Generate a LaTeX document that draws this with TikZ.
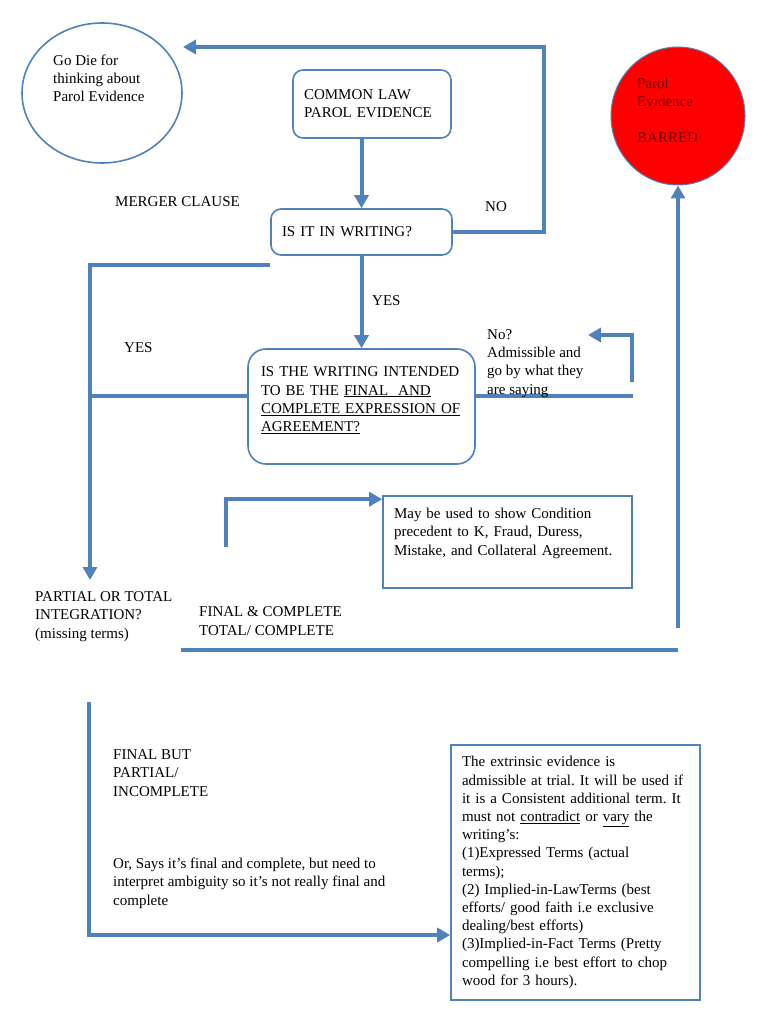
\documentclass[tikz,border=0pt]{standalone}
\usepackage{fontspec}
\setmainfont{Liberation Serif}
\usetikzlibrary{arrows.meta,shapes.geometric}
\definecolor{flowblue}{RGB}{79,129,189}
\definecolor{barredfill}{RGB}{255,0,0}
\definecolor{barredink}{RGB}{110,0,0}
\tikzset{
    >={Triangle[width=14pt,length=13pt]},
    flow/.style={draw=flowblue,line width=4pt},
    stepbox/.style={draw=flowblue,line width=1.6pt,rounded corners=10pt,align=left,inner xsep=11pt},
    notebox/.style={draw=flowblue,line width=1.6pt,align=left,inner xsep=11pt},
    plain/.style={align=left,inner sep=0pt,anchor=base west},
}

\begin{document}
\begin{tikzpicture}[x=1pt,y=-1pt,font=\fontsize{15}{18.2}\selectfont\frenchspacing]
    \useasboundingbox (0,0) rectangle (768,1024);

    % shapes
    \node[draw=flowblue,line width=1.6pt,ellipse,minimum width=160,minimum height=140] (godie) at (102,93) {};
    \node[draw=flowblue,line width=1pt,fill=barredfill,ellipse,minimum width=134,minimum height=138] (barred) at (678,116) {};
    \node[stepbox,minimum width=158,minimum height=68,text width=136] (common) at (372,104)
        {COMMON LAW\\PAROL EVIDENCE};
    \node[stepbox,minimum width=181,minimum height=46,text width=159] (writing) at (361.5,232)
        {IS IT IN WRITING?};
    \node[stepbox,rounded corners=18pt,minimum width=227,minimum height=115,text width=201,text depth=69pt] (intended) at (361.5,406.5)
        {IS THE WRITING INTENDED\\TO BE THE \underline{FINAL\ \ AND}\\\underline{COMPLETE EXPRESSION OF}\\\underline{AGREEMENT?}};
    \node[notebox,minimum width=249,minimum height=92,text width=227,text depth=57pt] (maybe) at (507.5,542)
        {May be used to show Condition\\precedent to K, Fraud, Duress,\\Mistake, and Collateral Agreement.};
    \node[notebox,minimum width=249,minimum height=255,text width=227] (extrinsic) at (575.5,872.5)
        {The extrinsic evidence is\\admissible at trial. It will be used if\\it is a Consistent additional term. It\\must not \underline{contradict} or \underline{vary} the\\writing’s:\\(1)Expressed Terms (actual\\terms);\\(2) Implied-in-LawTerms (best\\efforts/ good faith i.e exclusive\\dealing/best efforts)\\(3)Implied-in-Fact Terms (Pretty\\compelling i.e best effort to chop\\wood for 3 hours).};

    % free ends
    \coordinate (noend) at (183,47);
    \coordinate (yesstart) at (270,265);
    \coordinate (partialtip) at (90,580);
    \coordinate (nobend) at (632,382);
    \coordinate (notip) at (588,335);
    \coordinate (maybefoot) at (226,547);
    \coordinate (completestart) at (181,650);
    \coordinate (barredfoot) at (678,628);
    \coordinate (partialfoot) at (89,702);

    % connectors
    \draw[flow,->] (writing.east) -- ++(91,0) |- (noend);
    \draw[flow,->] (writing.north |- common.south) -- (writing.north);
    \draw[flow,->] (writing.south) -- (intended.north);
    \draw[flow,->] (yesstart) -| (partialtip);
    \draw[flow] ([yshift=11pt]intended.west) -- ([yshift=11pt]intended.west -| partialtip);
    \draw[flow] ([yshift=11pt]intended.east) -- ++(157,0);
    \draw[flow,->] (nobend) |- (notip);
    \draw[flow,->] (maybefoot) |- ([yshift=-4pt]maybe.north west);
    \draw[flow] (completestart) -- (completestart -| barred.south);
    \draw[flow,->] (barredfoot) -- (barred.south);
    \draw[flow,->] (partialfoot) |- ([yshift=-62.5pt]extrinsic.west);

    % texts (anchored at the baseline of the last line)
    \node[plain] (godietext) at (53,102) {Go Die for\\thinking about\\Parol Evidence};
    \node[plain,text=barredink] (barredtext) at (637,143) {Parol\\Evidence\\[18.2pt]BARRED};
    \node[plain] (merger) at (115,207) {MERGER CLAUSE};
    \node[plain] (nolabel) at (485,212) {NO};
    \node[plain] (yesright) at (372,305) {YES};
    \node[plain] (yesleft) at (124,352) {YES};
    \node[plain] (admissible) at (487,394) {No?\\Admissible and\\go by what they\\are saying};
    \node[plain] (partial) at (35,638) {PARTIAL OR TOTAL\\INTEGRATION?\\(missing terms)};
    \node[plain] (finalcomplete) at (199,635) {FINAL \& COMPLETE\\TOTAL/ COMPLETE};
    \node[plain] (finalbut) at (113,796) {FINAL BUT\\PARTIAL/\\INCOMPLETE};
    \node[plain] (interpret) at (113,905) {Or, Says it’s final and complete, but need to\\interpret ambiguity so it’s not really final and\\complete};
\end{tikzpicture}
\end{document}
